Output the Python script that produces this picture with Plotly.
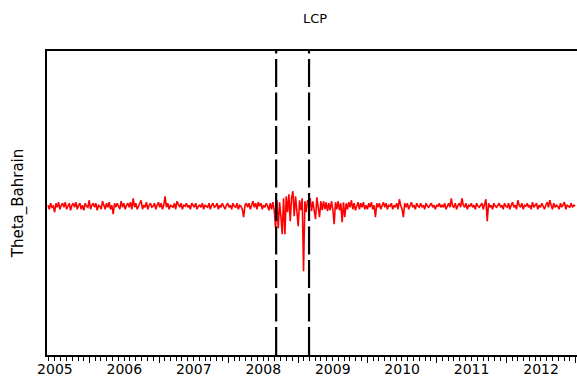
import pandas as pd
import plotly.graph_objects as go

start_date = "2005-05-27"
theta = [
    0.1, -0.3, 0.3, -0.1, 0.0, -0.6, 0.3, -0.1, 0.4, -0.3, 0.1, 0.3, -0.1, 0.4, -0.3, 0.0, 0.3, -0.4, 0.1, 0.3,
    -0.1, 0.4, -0.3, 0.1, 0.3, -0.3, 0.1, -0.4, 0.3, 0.0, -0.1, 0.6, -0.3, 0.1, 0.3, -0.1, 0.3, -0.4, 0.1, 0.0,
    -0.3, 0.5, 0.1, -0.3, 0.3, -0.1, 0.4, -0.3, 0.1, -0.8, 0.3, -0.1, 0.3, 0.0, -0.3, 0.5, -0.1, 0.3, -0.3, 0.1,
    0.3, -0.1, 0.4, -0.3, 0.8, -0.1, 0.3, -0.3, 0.1, 0.3, 0.6, -0.3, 0.1, -0.1, 0.4, -0.3, 0.1, 0.3, -0.1, 0.0,
    0.3, -0.3, 0.1, 0.4, -0.1, 0.3, -0.3, 0.1, 1.0, -0.1, 0.3, -0.3, 0.1, 0.0, -0.1, 0.3, -0.3, 0.5, 0.1, -0.1,
    0.3, -0.3, 0.1, 0.0, 0.3, -0.1, 0.1, -0.3, 0.3, 0.1, -0.1, 0.3, -0.3, 0.0, 0.1, -0.1, 0.3, -0.3, 0.1, 0.0,
    -0.1, 0.3, -0.3, 0.1, 0.3, -0.1, 0.0, 0.3, -0.3, 0.1, -0.1, 0.3, 0.0, -0.3, 0.1, 0.3, -0.1, 0.1, -0.3, 0.3,
    0.0, -0.1, 0.3, -0.3, 0.1, 0.0, -0.3, -1.1, 0.1, 0.3, -0.1, 0.3, -0.3, 0.1, 0.5, -0.1, 0.3, -0.3, 0.4, 0.0,
    0.3, -0.3, 0.1, -0.1, 0.3, 0.0, -0.4, 0.3, -0.3, 0.4,
    -0.4, -2.2, 0.6, -2.2, 0.4, -1.0, -2.8, 0.8, -2.8, 1.0, -0.6, 1.2, -1.5, 0.8, 1.5, -1.0, 1.0, -0.5, -2.0, 0.6,
    -0.4, 0.8, -6.5, 0.5, -0.6, 0.6,
    0.4, 0.8, -0.5, 0.5, -0.3, -1.3, 0.9, -0.4, -1.1, 0.5, -0.4, 0.5, -0.3, 0.4, -0.5, 0.3, -0.4, 0.5, -0.3, -1.8,
    0.4, -0.3, 0.5, -0.4,
    0.3, -1.6, 0.4, -1.1, 0.3, -0.3, 0.4, -0.1, 0.6, -0.3, 0.3, -0.4, 0.1, 0.4, -0.3, 0.3, -0.1, 0.4, -0.3, 0.1,
    -0.3, 0.3, -0.1, 0.4, -0.3, 0.1, -1.1, 0.3, -0.1, 0.3, -0.3, 0.1, 0.4, -0.1, 0.3, -0.3, 0.1, 0.0, 0.3, -0.3,
    0.1, -0.1, 0.3, -0.3, 0.7, 0.1, -0.3, -1.1, 0.3, -0.1, 0.3, -0.3, 0.1, 0.4, -0.1, 0.1, -0.3, 0.3, 0.0, -0.1,
    0.3, -0.1, 0.1, -0.3, 0.3, 0.0, -0.1, 0.1, 0.3, -0.1, 0.1, -0.3, 0.1, 0.0, 0.3, -0.1, 0.1, -0.1, 0.3, -0.3,
    0.1, 0.3, -0.1, 0.8, 0.0, -0.1, 0.3, -0.3, 0.1, 0.3, -0.1, 0.8, 0.1, -0.1, 0.3, -0.3, 0.1, 0.0, 0.3, -0.1,
    0.1, -0.3, 0.3, 0.0, -0.1, 0.1, 0.3, -0.3, 0.1, 0.7, -1.5, 0.3, -0.1, 0.1, -0.3, 0.3, 0.0, -0.1, 0.1, 0.3,
    -0.1, 0.1, -0.3, 0.3, 0.0, -0.1, 0.3, -0.3, 0.1, 0.4, -0.1, 0.1, -0.3, 0.6, 0.1, -0.1, 0.3, -0.3, 0.1, 0.0,
    0.3, -0.1, 0.1, -0.3, 0.4, -0.1, 0.1, 0.3, -0.3, 0.1, -0.1, 0.3, 0.0, -0.3, 0.1, 0.4, -0.1, 0.6, 0.1, -0.3,
    0.3, -0.1, 0.1, 0.0, -0.3, 0.3, -0.1, 0.1, 0.4, -0.3, 0.1, 0.0, -0.1, 0.3, -0.1, 0.1, 0.0,
]
dates = pd.date_range(start_date, periods=len(theta), freq="7D")

lcp_bounds = ["2008-09-08", "2009-02-28"]
x_range = ["2005-05-22", "2013-01-07"]
y_range = [-14.9, 15.55]

fig = go.Figure()
fig.add_trace(go.Scatter(x=dates, y=theta, mode="lines",
                         line=dict(color="#ff0000", width=1.6), showlegend=False))
for d in lcp_bounds:
    fig.add_vline(x=d, line=dict(color="black", width=2.2, dash="28px,5.5px"))

fig.update_layout(
    width=577, height=376,
    margin=dict(l=47, r=0, t=51, b=21, autoexpand=False),
    paper_bgcolor="white", plot_bgcolor="white",
    font=dict(family="DejaVu Sans", color="black"),
    title=dict(text="LCP", x=0.546, xanchor="center", y=0.952, yanchor="middle",
               font=dict(size=13, color="black")),
)
fig.update_xaxes(
    type="date", range=x_range, automargin=False,
    tick0="2005-01-01", dtick="M12", tickformat="%Y", ticklabelmode="period",
    ticks="outside", ticklen=6, tickwidth=1, tickcolor="black", ticklabelstandoff=-6,
    minor=dict(dtick="M1", tick0="2005-01-01", ticks="outside", ticklen=4, tickwidth=1, tickcolor="black"),
    showline=True, linecolor="black", linewidth=1.5, mirror=True,
    showgrid=False, zeroline=False, tickfont=dict(size=14, color="black"),
)
fig.update_yaxes(
    range=y_range, showticklabels=False, ticks="", automargin=False,
    showline=True, linecolor="black", linewidth=2,
    showgrid=False, zeroline=False,
    title=dict(text="Theta_Bahrain", font=dict(size=15, color="black"), standoff=18),
)

fig.write_html("out.html")
